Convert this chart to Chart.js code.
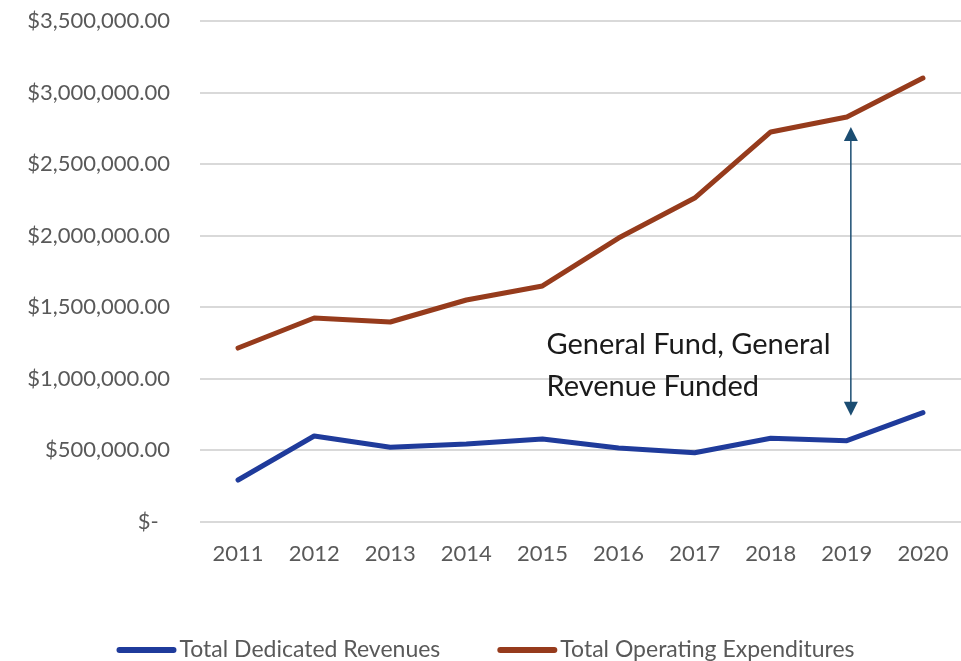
<!DOCTYPE html>
<html>
<head>
<meta charset="utf-8">
<script src="https://cdn.jsdelivr.net/npm/chart.js@4.4.1/dist/chart.umd.min.js"></script>
<style>
  html, body { margin: 0; padding: 0; background: #fff; }
  #wrap { width: 961px; height: 661px; position: relative; }
</style>
</head>
<body>
<div id="wrap"><canvas id="chart"></canvas></div>
<script>
// chart data
const years = ['2011', '2012', '2013', '2014', '2015', '2016', '2017', '2018', '2019', '2020'];
const dedicatedRevenues = [290000, 598000, 519000, 542000, 577000, 514000, 481000, 582000, 565000, 761000];
const operatingExpenditures = [1213000, 1423000, 1395000, 1549000, 1647000, 1982000, 2262000, 2724000, 2829000, 3101000];
const seriesLabels = ['Total Dedicated Revenues', 'Total Operating Expenditures'];
const annotationLines = ['General Fund, General', 'Revenue Funded'];
const arrowYear = '2019';

const COLORS = { blue: '#1f3b9b', brown: '#963b1c', arrow: '#1b4d72', grid: '#d9d9d9', tick: '#595959', text: '#1a1a1a' };
const FONT = 'Lato, "Open Sans", sans-serif';

function money(v) {
  if (v === 0) return '$-  ';
  return '$' + v.toLocaleString('en-US', { minimumFractionDigits: 2, maximumFractionDigits: 2 });
}

// arrow between the two series + the text label
const gapArrow = {
  id: 'gapArrow',
  afterDatasetsDraw(chart) {
    const { ctx, scales: { x, y } } = chart;
    const i = years.indexOf(arrowYear);
    const ax = x.getPixelForValue(i) + 4;
    const top = y.getPixelForValue(operatingExpenditures[i]) + 10;
    const bot = y.getPixelForValue(dedicatedRevenues[i]) - 25;
    ctx.save();
    ctx.strokeStyle = COLORS.arrow;
    ctx.fillStyle = COLORS.arrow;
    ctx.lineWidth = 1.5;
    ctx.beginPath();
    ctx.moveTo(ax, top + 12);
    ctx.lineTo(ax, bot - 12);
    ctx.stroke();
    ctx.beginPath();
    ctx.moveTo(ax, top); ctx.lineTo(ax - 7, top + 14); ctx.lineTo(ax + 7, top + 14); ctx.closePath(); ctx.fill();
    ctx.beginPath();
    ctx.moveTo(ax, bot); ctx.lineTo(ax - 7, bot - 14); ctx.lineTo(ax + 7, bot - 14); ctx.closePath(); ctx.fill();

    // label, left-aligned a bit right of 2015
    ctx.fillStyle = COLORS.text;
    ctx.font = '29px ' + FONT;
    ctx.textAlign = 'left';
    ctx.textBaseline = 'middle';
    const tx = x.getPixelForValue(4) + 4;
    const ty = y.getPixelForValue(1240000);
    annotationLines.forEach((t, k) => ctx.fillText(t, tx, ty + k * 42));
    ctx.restore();
  }
};

// legend drawn by hand so it sits near the bottom edge
const bottomLegend = {
  id: 'bottomLegend',
  afterDraw(chart) {
    const { ctx } = chart;
    const cy = 650;
    const items = chart.data.datasets.map(d => ({ label: d.label, color: d.borderColor }));
    ctx.save();
    ctx.font = '23px ' + FONT;
    ctx.textBaseline = 'middle';
    const lineW = 60, gap = 3, between = 57;
    const widths = items.map(it => lineW + gap + ctx.measureText(it.label).width);
    const total = widths.reduce((a, b) => a + b, 0) + between * (items.length - 1);
    let cx = (chart.width - total) / 2 + 5;
    items.forEach((it, k) => {
      ctx.strokeStyle = it.color;
      ctx.lineWidth = 6;
      ctx.lineCap = 'round';
      ctx.beginPath();
      ctx.moveTo(cx + 3, cy); ctx.lineTo(cx + lineW - 3, cy);
      ctx.stroke();
      ctx.fillStyle = COLORS.tick;
      ctx.fillText(it.label, cx + lineW + gap, cy);
      cx += widths[k] + between;
    });
    ctx.restore();
  }
};

new Chart(document.getElementById('chart'), {
  type: 'line',
  data: {
    labels: years,
    datasets: [
      { label: seriesLabels[0], data: dedicatedRevenues, borderColor: COLORS.blue, backgroundColor: COLORS.blue,
        borderWidth: 5, pointRadius: 0, tension: 0, borderCapStyle: 'round', borderJoinStyle: 'round' },
      { label: seriesLabels[1], data: operatingExpenditures, borderColor: COLORS.brown, backgroundColor: COLORS.brown,
        borderWidth: 5, pointRadius: 0, tension: 0, borderCapStyle: 'round', borderJoinStyle: 'round' }
    ]
  },
  options: {
    responsive: true, maintainAspectRatio: false, animation: false,
    layout: { autoPadding: false, padding: { top: 21, right: 0, bottom: 0, left: 0 } },
    plugins: { legend: { display: false }, tooltip: { enabled: false } },
    scales: {
      x: {
        offset: true,
        grid: { display: false, drawTicks: false },
        border: { display: false },
        ticks: { font: { family: FONT, size: 22 }, color: COLORS.tick, padding: 19, maxRotation: 0 },
        afterFit: s => { s.height = 139.5; s.paddingLeft = 0; s.paddingRight = 0; s.paddingTop = 0; s.paddingBottom = 0; }
      },
      y: {
        min: 0, max: 3500000,
        grid: { color: COLORS.grid, lineWidth: 2, drawTicks: false },
        border: { display: false },
        ticks: { stepSize: 500000, font: { family: FONT, size: 22 }, color: COLORS.tick, padding: 30, callback: v => money(v) },
        afterFit: s => { s.width = 200; s.paddingTop = 0; s.paddingBottom = 0; }
      }
    }
  },
  plugins: [gapArrow, bottomLegend]
});
</script>
</body>
</html>
